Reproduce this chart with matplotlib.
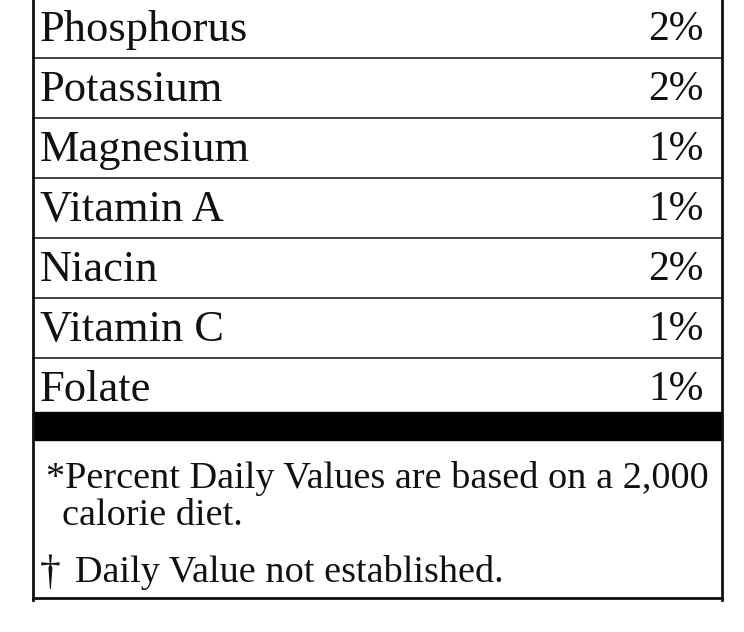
import matplotlib.pyplot as plt

nutrients = ["Phosphorus", "Potassium", "Magnesium", "Vitamin A", "Niacin", "Vitamin C", "Folate"]
percents = ["2%", "2%", "1%", "1%", "2%", "1%", "1%"]
footnotes = ["*Percent Daily Values are based on a 2,000", "calorie diet.", "\u2020", "Daily Value not established."]

fig = plt.figure(figsize=(7.44, 6.32), dpi=100)
ax = fig.add_axes([0, 0, 1, 1])
ax.set_xlim(0, 744)
ax.set_ylim(632, 0)
ax.axis("off")

font = dict(family="Liberation Serif", color="#111111")
row_h = 60
for i, (name, pct) in enumerate(zip(nutrients, percents)):
    yc = 30 + i * row_h
    ax.text(40, yc, name, fontsize=32, va="center", ha="left", **font)
    ax.text(704, yc, pct, fontsize=30, va="center", ha="right", **font)
    if i < len(nutrients) - 1:
        ax.plot([33, 722], [yc + 28, yc + 28], color="#222222", lw=1.2)

ax.add_patch(plt.Rectangle((33, 412), 689, 28, color="black"))
ax.plot([33, 33], [0, 600], color="#111111", lw=2)
ax.plot([722, 722], [0, 600], color="#111111", lw=2)
ax.plot([33, 722], [598, 598], color="#111111", lw=2)

ax.text(46, 478, footnotes[0], fontsize=27.5, va="center", ha="left", **font)
ax.text(62, 516, footnotes[1], fontsize=27.5, va="center", ha="left", **font)
ax.text(40, 574, footnotes[2], fontsize=30, va="center", ha="left", **font)
ax.text(75, 573, footnotes[3], fontsize=27.5, va="center", ha="left", **font)

fig.savefig("out.png", dpi=100)
